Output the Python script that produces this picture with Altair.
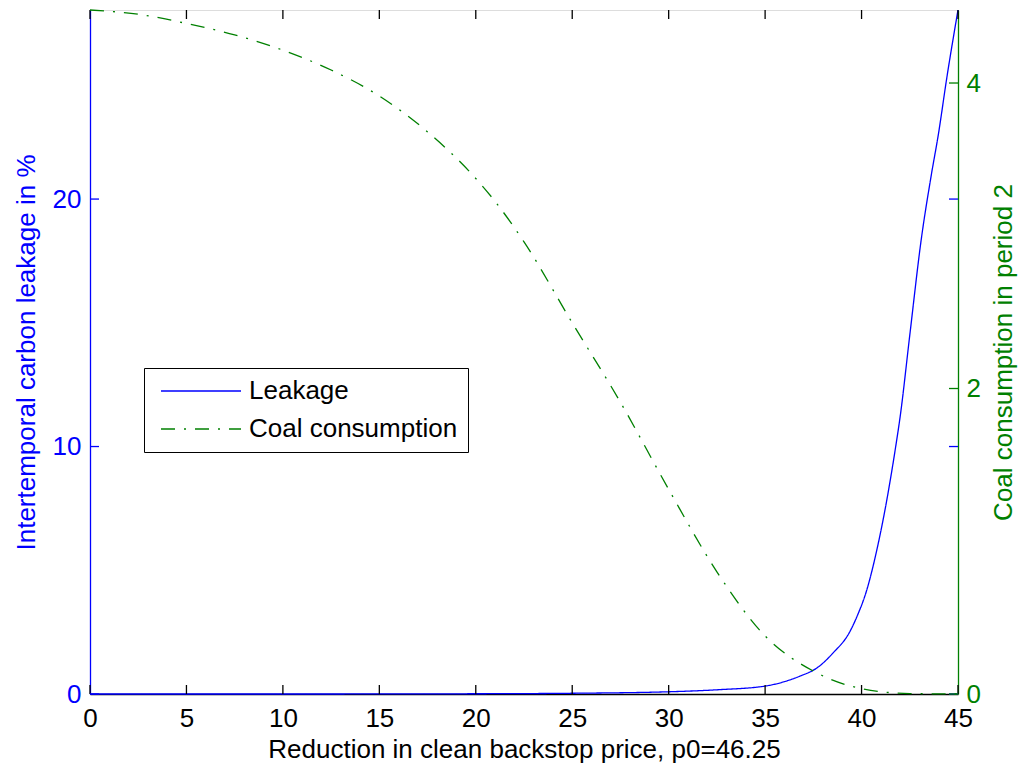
import altair as alt
import pandas as pd

# ---- data ----
x_coal = [0, 2.5, 5, 7.5, 10, 12.5, 15, 17.5, 20, 21, 22.5, 25, 27.5, 30, 32.5, 35, 37.5, 40, 42.5, 45]
coal = [4.478, 4.45, 4.39, 4.315, 4.215, 4.085, 3.915, 3.68, 3.375, 3.225, 2.96, 2.43, 1.91, 1.34, 0.80, 0.38, 0.15, 0.035, 0.003, 0.0]

x_leak = [0, 10, 20, 25, 30, 32.5, 35, 36, 36.8, 37.7, 38.5, 39.4, 39.8, 40.25, 40.8, 41.3, 41.75, 42.0, 42.5, 43.1, 43.6, 44.0, 44.4, 45]
leak = [0, 0.0, 0.01, 0.03, 0.09, 0.17, 0.32, 0.50, 0.72, 1.06, 1.64, 2.53, 3.2, 4.15, 5.85, 7.8, 9.9, 11.2, 14.5, 18.4, 20.9, 22.7, 24.8, 27.64]

x_ticks = [0, 5, 10, 15, 20, 25, 30, 35, 40, 45]
left_ticks = [0, 10, 20]
right_ticks = [0, 2, 4]
series = ["Leakage", "Coal consumption"]

W, H = 868, 684
BLUE = "#0000ff"
GREEN = "#008000"
FONT = "Liberation Sans"
FS = 26
TL = 9  # inward tick length

leak_df = pd.DataFrame({"x": x_leak, "v": leak, "series": "Leakage"})
coal_df = pd.DataFrame({"x": x_coal, "v": coal, "series": "Coal consumption"})
xt_df = pd.DataFrame({"xt": x_ticks})
lt_df = pd.DataFrame({"yt": left_ticks})
rt_df = pd.DataFrame({"yt": right_ticks})

xscale = alt.Scale(domain=[0, 45], nice=False, zero=False)
xaxis = alt.Axis(values=x_ticks, title="Reduction in clean backstop price, p0=46.25",
                 ticks=False, grid=False, labelFontSize=FS, titleFontSize=FS,
                 labelColor="black", titleColor="black", domainColor="black", domainWidth=1.3,
                 labelPadding=11, titlePadding=5, titleFontWeight="normal",
                 labelFont=FONT, titleFont=FONT, format="d", labelFlush=False)

lscale = alt.Scale(domain=[0, 27.64], nice=False, zero=True)
laxis = alt.Axis(orient="left", values=left_ticks, title="Intertemporal carbon leakage in %",
                 ticks=False, grid=False, labelFontSize=FS, titleFontSize=FS,
                 labelColor=BLUE, titleColor=BLUE, domainColor=BLUE, domainWidth=1.3,
                 labelPadding=9, titlePadding=13, titleFontWeight="normal",
                 labelFont=FONT, titleFont=FONT, format="d", labelFlush=False)

rscale = alt.Scale(domain=[0, 4.478], nice=False, zero=True)
raxis = alt.Axis(orient="right", values=right_ticks, title="Coal consumption in period 2",
                 ticks=False, grid=False, labelFontSize=FS, titleFontSize=FS,
                 labelColor=GREEN, titleColor=GREEN, domainColor=GREEN, domainWidth=1.3,
                 labelPadding=8, titlePadding=10, titleFontWeight="normal",
                 titleAngle=270, titleBaseline="top",
                 labelFont=FONT, titleFont=FONT, format="d", labelFlush=False)

leg = alt.Legend(title=None, orient="none", legendX=54, legendY=358, direction="vertical",
                 fillColor="white", strokeColor="black", padding=10,
                 labelFontSize=FS, labelFont=FONT, labelColor="black",
                 symbolType="M-8,0H8", symbolSize=100, symbolStrokeWidth=1.3,
                 symbolOffset=34, labelOffset=35, rowPadding=12, labelLimit=500,
                 cornerRadius=0)

color = alt.Color("series:N", scale=alt.Scale(domain=series, range=[BLUE, GREEN]), legend=leg)
dash = alt.StrokeDash("series:N", scale=alt.Scale(domain=series, range=[[1, 0], [14, 9, 2, 9]]), legend=leg)

X = alt.X("x:Q", scale=xscale, axis=xaxis)
XT = alt.X("xt:Q", scale=xscale, axis=xaxis)

leak_line = alt.Chart(leak_df).mark_line(strokeWidth=1.3, interpolate="monotone").encode(
    x=X, y=alt.Y("v:Q", scale=lscale, axis=laxis), color=color, strokeDash=dash)
xt_bottom = alt.Chart(xt_df).mark_rule(color="black", strokeWidth=1.3).encode(
    x=XT, y=alt.value(H - TL), y2=alt.value(H))
xt_top = alt.Chart(xt_df).mark_rule(color="black", strokeWidth=1.3).encode(
    x=XT, y=alt.value(0), y2=alt.value(TL))
lt_left = alt.Chart(lt_df).mark_rule(color=BLUE, strokeWidth=1.3).encode(
    y=alt.Y("yt:Q", scale=lscale, axis=laxis), x=alt.value(0), x2=alt.value(TL))
lt_right = alt.Chart(lt_df).mark_rule(color=BLUE, strokeWidth=1.3).encode(
    y=alt.Y("yt:Q", scale=lscale, axis=laxis), x=alt.value(W - TL), x2=alt.value(W))
left = alt.layer(leak_line, xt_bottom, xt_top, lt_left, lt_right)

coal_line = alt.Chart(coal_df).mark_line(strokeWidth=1.3, interpolate="monotone").encode(
    x=X, y=alt.Y("v:Q", scale=rscale, axis=raxis), color=color, strokeDash=dash)
rt_right = alt.Chart(rt_df).mark_rule(color=GREEN, strokeWidth=1.3).encode(
    y=alt.Y("yt:Q", scale=rscale, axis=raxis), x=alt.value(W - TL), x2=alt.value(W))
right = alt.layer(coal_line, rt_right)

chart = alt.layer(left, right).resolve_scale(y="independent").properties(
    width=W, height=H,
    padding={"left": 82, "top": 2, "right": 64, "bottom": 70},
    autosize=alt.AutoSizeParams(type="none"),
).configure_view(stroke="black", strokeWidth=1.3).configure(background="white")

chart.save("out.html", embed_options={"renderer": "svg", "actions": False})
